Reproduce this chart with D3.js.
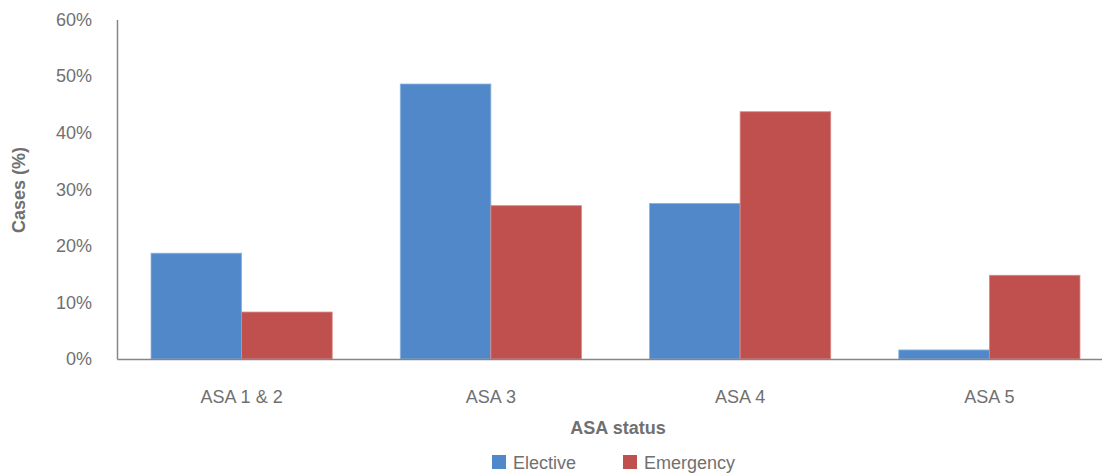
<!DOCTYPE html>
<html>
<head>
<meta charset="utf-8">
<script src="https://cdn.jsdelivr.net/npm/d3@7"></script>
<style>
  html, body { margin: 0; padding: 0; background: #fff; }
  svg { display: block; font-family: "Liberation Sans", Arial, sans-serif; }
</style>
</head>
<body>
<svg id="chart" width="1102" height="475"></svg>
<script>
// ASA status categories and share of cases (%) per admission type
const categories = ["ASA 1 & 2", "ASA 3", "ASA 4", "ASA 5"];
const seriesNames = ["Elective", "Emergency"];
const elective = [18.7, 48.6, 27.5, 1.6];
const emergency = [8.3, 27.1, 43.7, 14.8];
const yTicks = [0, 10, 20, 30, 40, 50, 60];
const colors = ["#5088C9", "#C0504D"];
const strokes = ["#8FB3DE", "#D98A88"];

const svg = d3.select("#chart");
const margin = { left: 117, right: -12, top: 19.5, bottom: 116 };
const W = 1102, H = 475;
const textColor = "#707070";
const axisColor = "#868686";
const fontSize = "18px";

const x = d3.scaleBand()
  .domain(categories)
  .range([margin.left, W - margin.right])
  .paddingInner(0.273)
  .paddingOuter(0.1365);

const xSub = d3.scaleBand()
  .domain(seriesNames)
  .range([0, x.bandwidth()]);

const y = d3.scaleLinear()
  .domain([0, 60])
  .range([H - margin.bottom, margin.top]);

const rows = categories.map((c, i) => ({
  cat: c,
  values: [
    { name: seriesNames[0], v: elective[i] },
    { name: seriesNames[1], v: emergency[i] }
  ]
}));

// Bars
const g = svg.append("g");
g.selectAll("g.grp")
  .data(rows)
  .join("g")
  .attr("class", "grp")
  .attr("transform", d => `translate(${x(d.cat)},0)`)
  .selectAll("rect")
  .data(d => d.values)
  .join("rect")
  .attr("x", d => xSub(d.name))
  .attr("y", d => y(d.v))
  .attr("width", xSub.bandwidth())
  .attr("height", d => y(0) - y(d.v))
  .attr("fill", (d, i) => colors[i])
  .attr("stroke", (d, i) => strokes[i])
  .attr("stroke-width", 0.8);

// Y axis
const yAxis = svg.append("g")
  .attr("transform", `translate(${margin.left},0)`)
  .call(d3.axisLeft(y).tickValues(yTicks).tickFormat(d => d + "%").tickSize(0).tickPadding(25));
yAxis.select(".domain").attr("stroke", axisColor).attr("stroke-width", 1.5);
yAxis.selectAll("text")
  .attr("fill", textColor)
  .style("font-size", fontSize)
  .style("font-family", "Liberation Sans, Arial, sans-serif");

// X axis
const xAxis = svg.append("g")
  .attr("transform", `translate(0,${y(0)})`)
  .call(d3.axisBottom(x).tickSize(0).tickPadding(31));
xAxis.select(".domain").attr("stroke", axisColor).attr("stroke-width", 1.5);
xAxis.selectAll("text")
  .attr("fill", textColor)
  .style("font-size", fontSize)
  .style("font-family", "Liberation Sans, Arial, sans-serif");

// Axis titles
svg.append("text")
  .attr("x", 618).attr("y", 434)
  .attr("text-anchor", "middle")
  .attr("fill", textColor)
  .style("font-size", fontSize)
  .style("font-weight", "bold")
  .text("ASA status");

svg.append("text")
  .attr("transform", "translate(25,190) rotate(-90)")
  .attr("text-anchor", "middle")
  .attr("fill", textColor)
  .style("font-size", fontSize)
  .style("font-weight", "bold")
  .text("Cases (%)");

// Legend
const legendX = [492, 623];
const legend = svg.append("g");
seriesNames.forEach((name, i) => {
  legend.append("rect")
    .attr("x", legendX[i]).attr("y", 455)
    .attr("width", 14).attr("height", 14)
    .attr("fill", colors[i]);
  legend.append("text")
    .attr("x", legendX[i] + 21).attr("y", 469)
    .attr("fill", textColor)
    .style("font-size", fontSize)
    .text(name);
});
</script>
</body>
</html>
